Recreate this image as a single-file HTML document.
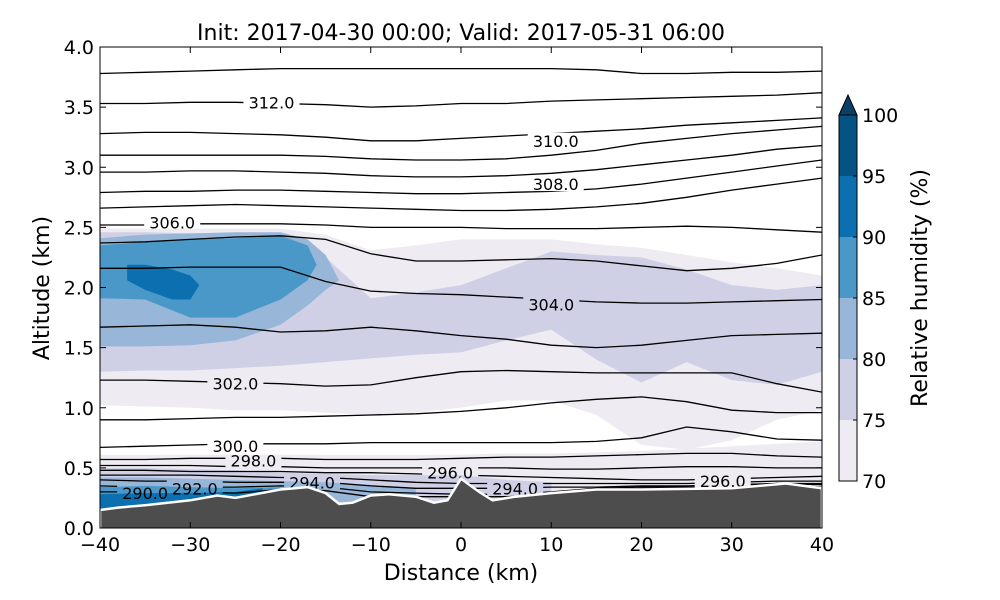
<!DOCTYPE html>
<html><head><meta charset="utf-8">
<style>
html,body{margin:0;padding:0;background:#fff;}
svg{display:block;font-family:"DejaVu Sans","Liberation Sans",sans-serif;}
</style></head>
<body>
<svg id="chart" width="1000" height="600" viewBox="0 0 1000 600">
<rect width="1000" height="600" fill="#fff"/>
<g id="plot"></g>
</svg>
<script>
// ---- data ----
const gridDist = [-40,-35,-30,-25,-20,-15,-10,-5,0,5,10,15,20,25,30,35,40];
const thetaLevels = ['3.78','312','3.28','310','2.96','308','2.66','306','2.37','304','1.67','302','0.90','300','298','297','296','295','294','293','292'];
const thetaLines = [
 [3.78,3.79,3.80,3.81,3.82,3.82,3.82,3.82,3.82,3.82,3.82,3.81,3.78,3.78,3.79,3.79,3.80],
 [3.53,3.53,3.54,3.54,3.53,3.52,3.50,3.51,3.53,3.53,3.55,3.56,3.57,3.58,3.59,3.60,3.62],
 [3.28,3.29,3.29,3.28,3.27,3.25,3.22,3.22,3.24,3.26,3.28,3.30,3.32,3.35,3.37,3.39,3.41],
 [3.10,3.10,3.10,3.10,3.10,3.09,3.07,3.06,3.06,3.07,3.10,3.14,3.20,3.24,3.28,3.31,3.34],
 [2.96,2.96,2.97,2.97,2.96,2.95,2.93,2.92,2.92,2.93,2.95,2.98,3.02,3.06,3.10,3.15,3.18],
 [2.79,2.80,2.80,2.81,2.81,2.80,2.79,2.78,2.78,2.79,2.80,2.82,2.86,2.91,2.96,3.01,3.06],
 [2.66,2.67,2.68,2.69,2.68,2.67,2.66,2.65,2.64,2.64,2.65,2.67,2.70,2.75,2.81,2.86,2.91],
 [2.52,2.52,2.53,2.53,2.53,2.52,2.50,2.50,2.50,2.49,2.49,2.49,2.50,2.51,2.50,2.48,2.46],
 [2.37,2.38,2.40,2.42,2.43,2.40,2.28,2.22,2.22,2.23,2.24,2.22,2.18,2.14,2.16,2.20,2.27],
 [2.16,2.16,2.17,2.17,2.17,2.05,1.97,1.95,1.94,1.92,1.90,1.88,1.87,1.87,1.88,1.89,1.90],
 [1.67,1.68,1.69,1.67,1.63,1.64,1.67,1.64,1.60,1.57,1.52,1.50,1.52,1.56,1.60,1.61,1.62],
 [1.23,1.23,1.22,1.21,1.20,1.18,1.19,1.25,1.30,1.31,1.30,1.29,1.29,1.29,1.29,1.20,1.13],
 [0.90,0.90,0.91,0.92,0.92,0.93,0.94,0.95,0.97,1.00,1.04,1.07,1.09,1.05,0.98,0.96,0.96],
 [0.67,0.68,0.69,0.70,0.70,0.70,0.71,0.71,0.71,0.71,0.71,0.72,0.75,0.84,0.80,0.74,0.73],
 [0.57,0.57,0.58,0.58,0.58,0.57,0.57,0.57,0.58,0.59,0.59,0.60,0.61,0.62,0.62,0.60,0.59],
 [0.52,0.52,0.52,0.51,0.51,0.50,0.50,0.50,0.50,0.50,0.49,0.49,0.50,0.51,0.51,0.50,0.50],
 [0.48,0.48,0.47,0.47,0.47,0.46,0.46,0.45,0.44,0.43,0.42,0.41,0.40,0.40,0.41,0.42,0.43],
 [0.44,0.44,0.44,0.43,0.42,0.42,0.40,0.38,0.37,0.37,0.37,0.37,0.37,0.37,0.38,0.39,0.39],
 [0.40,0.39,0.39,0.38,0.38,0.38,0.35,0.33,0.33,0.33,0.34,0.34,0.35,0.35,0.36,0.37,0.37],
 [0.35,0.34,0.34,0.34,0.35,0.34,0.30,0.29,0.28,0.28,0.30,0.33,0.34,0.34,0.35,0.37,0.36],
 [0.30,0.30,0.30,0.29,0.32,0.31,0.26,0.26,0.26,0.26,0.28,0.32,0.33,0.33,0.34,0.37,0.34]
];
const clabelText = ['312.0','310.0','308.0','306.0','304.0','302.0','300.0','298.0','296.0','296.0','294.0','294.0','292.0','290.0'];
const clabelDist = [-21,10.5,10.5,-32,10,-25,-25,-23,-1.2,29,-16.5,6,-29.5,-35];
const clabelAlt  = [3.54,3.22,2.86,2.54,1.86,1.20,0.68,0.56,0.46,0.39,0.38,0.33,0.33,0.29];
// terrain
const terrDist = [-40,-38,-35,-30,-27,-25,-20,-17,-15,-13.5,-12,-10,-8,-5,-3,-1.5,0,2,3.5,6,10,15,20,30,36,40];
const terrAlt  = [0.15,0.17,0.19,0.23,0.27,0.25,0.32,0.34,0.29,0.20,0.21,0.27,0.28,0.26,0.21,0.23,0.41,0.30,0.23,0.26,0.29,0.32,0.32,0.33,0.37,0.33];
// relative humidity filled regions
const rh70Top = [2.49,2.49,2.49,2.49,2.49,2.44,2.31,2.35,2.40,2.40,2.40,2.36,2.33,2.27,2.21,2.16,2.10];
const rh70Bot = [1.02,1.01,1.00,0.98,0.98,0.96,0.94,0.96,1.00,1.06,1.06,0.94,0.69,0.65,0.73,0.90,0.98];
const rh70LowTop = [0.61,0.61,0.61,0.61,0.61,0.61,0.61,0.61,0.61,0.62,0.62,0.63,0.64,0.66,0.68,0.70,0.72];
const rh75Top = [2.46,2.46,2.45,2.44,2.41,2.25,1.91,1.96,2.02,2.16,2.30,2.27,2.25,2.15,2.02,1.98,2.02];
const rh75Bot = [1.30,1.31,1.31,1.33,1.35,1.38,1.41,1.44,1.46,1.56,1.65,1.40,1.21,1.38,1.23,1.19,1.30];
const rh75LowDist = [-40,-35,-30,-25,-20,-15,-10,-5,0,5,10];
const rh75LowTop = [0.50,0.50,0.49,0.48,0.46,0.45,0.44,0.44,0.44,0.40,0.38];
const rh80Dist = [-40,-35,-30,-25,-20,-17,-15,-13.5];
const rh80Top = [2.41,2.44,2.45,2.46,2.46,2.40,2.27,2.06];
const rh80Bot = [1.51,1.51,1.52,1.56,1.69,1.85,1.98,2.06];
const rh80LowDist = [-40,-35,-30,-25,-20,-15,-10,-5];
const rh80LowTop = [0.42,0.42,0.41,0.40,0.39,0.38,0.36,0.33];
const rh85Dist = [-40,-35,-30,-25,-20,-17,-16];
const rh85Top = [2.35,2.38,2.40,2.41,2.43,2.35,2.19];
const rh85Bot = [1.91,1.90,1.75,1.75,1.90,2.06,2.19];
const rh85LowDist = [-40,-35,-30,-25,-20];
const rh85LowTop = [0.34,0.35,0.34,0.33,0.34];
const rh90Dist = [-37,-35,-32,-30,-29];
const rh90Top = [2.19,2.19,2.15,2.10,2.02];
const rh90Bot = [2.06,1.98,1.90,1.90,2.02];
const rh90LowDist = [-40,-35,-30,-25,-22];
const rh90LowTop = [0.28,0.29,0.29,0.30,0.33];
const xTicks = [-40,-30,-20,-10,0,10,20,30,40];
const yTicks = [0,0.5,1,1.5,2,2.5,3,3.5,4];
const cbLevels = [70,75,80,85,90,95,100];
const cbColors = ['#efebf3','#cfd0e6','#98b7d8','#4a98c8','#0c6fb0','#045382'];

// ---- axes ----
const L=100,R=822,T=47,B=528;
const X = d => L + (d+40)/80*(R-L);
const Y = a => B - a/4*(B-T);
const NS='http://www.w3.org/2000/svg';
const plot=document.getElementById('plot');
function mk(tag,attrs,parent){const e=document.createElementNS(NS,tag);for(const k in attrs)e.setAttribute(k,attrs[k]);(parent||plot).appendChild(e);return e;}

const defs=mk('defs',{});
const clip=mk('clipPath',{id:'pc'},defs);mk('rect',{x:L,y:T,width:R-L,height:B-T},clip);
const mask=mk('mask',{id:'lblmask',maskUnits:'userSpaceOnUse',x:0,y:0,width:1000,height:600},defs);
mk('rect',{x:0,y:0,width:1000,height:600,fill:'#fff'},mask);
const area=mk('g',{'clip-path':'url(#pc)'});

function band(dist,top,bot,color,name){
  let d='M'+dist.map((x,i)=>X(x).toFixed(1)+','+Y(top[i]).toFixed(1)).join(' L');
  for(let i=dist.length-1;i>=0;i--) d+=' L'+X(dist[i]).toFixed(1)+','+Y(bot?bot[i]:0).toFixed(1);
  const p=mk('path',{d:d+'Z',fill:color},area);
  
  
}
band(gridDist,rh70Top,rh70Bot,cbColors[0],'rh-70-band');
band(gridDist,rh70LowTop,null,cbColors[0],'rh-70-low-band');
band(gridDist,rh75Top,rh75Bot,cbColors[1],'rh-75-band');
band(rh75LowDist,rh75LowTop,null,cbColors[1],'rh-75-low-band');
band(rh80Dist,rh80Top,rh80Bot,cbColors[2],'rh-80-band');
band(rh80LowDist,rh80LowTop,null,cbColors[2],'rh-80-low-band');
band(rh85Dist,rh85Top,rh85Bot,cbColors[3],'rh-85-band');
band(rh85LowDist,rh85LowTop,null,cbColors[3],'rh-85-low-band');
band(rh90Dist,rh90Top,rh90Bot,cbColors[4],'rh-90-band');
band(rh90LowDist,rh90LowTop,null,cbColors[4],'rh-90-low-band');

const lines=mk('g',{mask:'url(#lblmask)'},area);
thetaLines.forEach((vals,k)=>{
  const p=mk('polyline',{points:gridDist.map((x,i)=>X(x).toFixed(1)+','+Y(vals[i]).toFixed(1)).join(' '),fill:'none',stroke:'#000','stroke-width':1.3},lines);
  
  
});
clabelText.forEach((t,i)=>{
  const cx=X(clabelDist[i]), cy=Y(clabelAlt[i]);
  const w=t.length*9.2+10;
  mk('rect',{x:cx-w/2,y:cy-8,width:w,height:15,fill:'#000'},mask);
  const e=mk('text',{x:cx,y:cy+6,'text-anchor':'middle','font-size':16,fill:'#000'},area);
  e.textContent=t;
  
  
});
// terrain
{
  let d='M'+terrDist.map((x,i)=>X(x).toFixed(1)+','+Y(terrAlt[i]).toFixed(1)).join(' L')+' L'+X(40)+','+(B+2)+' L'+X(-40)+','+(B+2)+'Z';
  const p=mk('path',{d:d,fill:'#4d4d4d',stroke:'#fff','stroke-width':2.5},area);
  
  
}
// frame
const fr=mk('rect',{x:L,y:T,width:R-L,height:B-T,fill:'none',stroke:'#000','stroke-width':1});


xTicks.forEach(v=>{
  const x=X(v);
  mk('line',{x1:x,x2:x,y1:B,y2:B-6,stroke:'#000'});
  mk('line',{x1:x,x2:x,y1:T,y2:T+6,stroke:'#000'});
  const t=mk('text',{x:x,y:B+23,'text-anchor':'middle','font-size':19});
  t.textContent=(v<0?'\u2212':'')+Math.abs(v);
  
  
});
yTicks.forEach(v=>{
  const y=Y(v);
  mk('line',{x1:L,x2:L+6,y1:y,y2:y,stroke:'#000'});
  mk('line',{x1:R,x2:R-6,y1:y,y2:y,stroke:'#000'});
  const t=mk('text',{x:L-6,y:y+7,'text-anchor':'end','font-size':19});
  t.textContent=v.toFixed(1);
  
  
});
{
  let t=mk('text',{x:461,y:580,'text-anchor':'middle','font-size':22});t.textContent='Distance (km)';
  
  t=mk('text',{x:0,y:0,'text-anchor':'middle','font-size':22,transform:'translate(49,288) rotate(-90)'});t.textContent='Altitude (km)';
  
  t=mk('text',{x:461,y:40,'text-anchor':'middle','font-size':22});t.textContent='Init: 2017-04-30 00:00; Valid: 2017-05-31 06:00';
  
}
// colorbar
const CB0=481, CB1=115, CBX=839, CBW=18;
const CY = v => CB0 - (v-70)/30*(CB0-CB1);
cbColors.forEach((c,i)=>{
  const r=mk('rect',{x:CBX,y:CY(cbLevels[i+1]),width:CBW,height:CY(cbLevels[i])-CY(cbLevels[i+1]),fill:c});
  
  
});
{
  const a=mk('polygon',{points:`${CBX},${CB1} ${CBX+CBW/2},${CB1-20} ${CBX+CBW},${CB1}`,fill:'#0a3f66',stroke:'#000','stroke-width':1});
  
  mk('rect',{x:CBX,y:CB1,width:CBW,height:CB0-CB1,fill:'none',stroke:'#000'});
}
cbLevels.forEach(v=>{
  const y=CY(v);
  mk('line',{x1:CBX+CBW-4,x2:CBX+CBW,y1:y,y2:y,stroke:'#000'});
  const t=mk('text',{x:CBX+CBW+5,y:y+7,'font-size':19});t.textContent=v;
  
});
{
  const t=mk('text',{x:0,y:0,'text-anchor':'middle','font-size':22,transform:'translate(927,288) rotate(-90)'});t.textContent='Relative humidity (%)';
  
}
</script>
</body></html>
